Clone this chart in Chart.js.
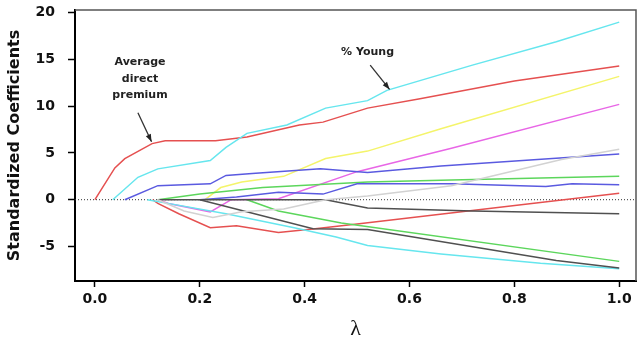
<!DOCTYPE html>
<html>
<head>
<meta charset="utf-8">
<script src="https://cdn.jsdelivr.net/npm/chart.js@4.4.1/dist/chart.umd.min.js"></script>
<style>
  html, body { margin: 0; padding: 0; background: #fff; }
  #wrap { width: 640px; height: 348px; }
</style>
</head>
<body>
<div id="wrap"><canvas id="lassoPaths"></canvas></div>
<script>
// coefficient paths, [lambda, standardized coefficient]
const premiumPath = [[0.0, 0], [0.038, 3.4], [0.057, 4.4], [0.109, 6.0], [0.134, 6.3], [0.23, 6.3], [0.29, 6.7], [0.39, 8.0], [0.435, 8.3], [0.52, 9.8], [0.62, 10.8], [0.8, 12.7], [1.0, 14.3]];
const youngPath = [[0.034, 0], [0.082, 2.4], [0.12, 3.3], [0.22, 4.2], [0.25, 5.6], [0.29, 7.1], [0.366, 8.0], [0.44, 9.8], [0.52, 10.6], [0.557, 11.7], [0.72, 14.4], [0.88, 16.9], [1.0, 19.0]];
const yellowPath = [[0.21, 0], [0.24, 1.3], [0.28, 1.9], [0.36, 2.5], [0.44, 4.4], [0.52, 5.2], [0.66, 7.6], [1.0, 13.2]];
const magentaPath = [[0.12, 0], [0.14, -0.4], [0.22, -1.3], [0.26, 0], [0.35, 0.1], [0.5, 3.0], [0.68, 5.5], [1.0, 10.2]];
const bluePathA = [[0.057, 0], [0.12, 1.5], [0.22, 1.7], [0.25, 2.6], [0.3, 2.8], [0.43, 3.3], [0.52, 2.9], [0.66, 3.6], [1.0, 4.9]];
const greenPathA = [[0.12, 0], [0.2, 0.6], [0.32, 1.3], [0.52, 1.9], [0.68, 2.1], [1.0, 2.5]];
const bluePathB = [[0.2, 0], [0.27, 0.3], [0.35, 0.8], [0.435, 0.6], [0.5, 1.7], [0.68, 1.7], [0.86, 1.4], [0.91, 1.7], [1.0, 1.6]];
const lightGrayPath = [[0.12, 0], [0.17, -1.2], [0.225, -1.9], [0.28, -1.3], [0.36, -1.0], [0.44, 0], [0.52, 0.4], [0.68, 1.5], [0.89, 4.3], [1.0, 5.4]];
const redPathB = [[0.11, 0], [0.12, -0.4], [0.16, -1.5], [0.22, -3.0], [0.27, -2.8], [0.35, -3.5], [0.42, -3.1], [0.5, -2.6], [1.0, 0.7]];
const cyanPathB = [[0.1, 0], [0.15, -0.5], [0.25, -1.5], [0.38, -3.0], [0.46, -4.0], [0.52, -4.9], [0.66, -5.8], [0.85, -6.8], [1.0, -7.4]];
const greenPathB = [[0.29, 0], [0.35, -1.2], [0.47, -2.5], [1.0, -6.6]];
const darkPathB = [[0.2, 0], [0.416, -3.1], [0.52, -3.2], [0.88, -6.5], [1.0, -7.3]];
const darkPathA = [[0.12, 0], [0.44, 0], [0.52, -0.9], [0.72, -1.2], [1.0, -1.5]];

const xTicks = [0, 0.2, 0.4, 0.6, 0.8, 1.0];
const yTicks = [-5, 0, 5, 10, 15, 20];

// text callouts: [lambda, coef] anchors
const premiumLabel = { lines: ['Average', 'direct', 'premium'], at: [0.086, 14.7], arrowFrom: [0.082, 9.3], arrowTo: [0.108, 6.2] };
const youngLabel = { lines: ['% Young'], at: [0.52, 15.8], arrowFrom: [0.525, 14.4], arrowTo: [0.562, 11.8] };

const series = [
  [lightGrayPath, '#d2d2d2'],
  [darkPathA, '#505050'],
  [darkPathB, '#505050'],
  [greenPathB, '#5cd65c'],
  [cyanPathB, '#66e6ee'],
  [redPathB, '#e55050'],
  [bluePathB, '#5a5ae0'],
  [greenPathA, '#5cd65c'],
  [bluePathA, '#5a5ae0'],
  [magentaPath, '#e866e6'],
  [yellowPath, '#f4f46a'],
  [youngPath, '#66e6ee'],
  [premiumPath, '#e55050'],
];

const frame = {
  id: 'frame',
  beforeDatasetsDraw(chart) {
    const { ctx, chartArea, scales } = chart;
    const y0 = scales.y.getPixelForValue(0);
    ctx.save();
    ctx.strokeStyle = '#333';
    ctx.lineWidth = 1;
    ctx.setLineDash([1, 2]);
    ctx.beginPath();
    ctx.moveTo(chartArea.left, y0);
    ctx.lineTo(chartArea.right, y0);
    ctx.stroke();
    ctx.restore();
  },
  afterDraw(chart) {
    const { ctx, chartArea } = chart;
    ctx.save();
    ctx.strokeStyle = '#555';
    ctx.lineWidth = 1.5;
    ctx.beginPath();
    ctx.moveTo(chartArea.left, chartArea.top);
    ctx.lineTo(chartArea.right, chartArea.top);
    ctx.lineTo(chartArea.right, chartArea.bottom);
    ctx.stroke();
    ctx.restore();
  }
};

const callouts = {
  id: 'callouts',
  afterDatasetsDraw(chart) {
    const { ctx, scales } = chart;
    const px = p => [scales.x.getPixelForValue(p[0]), scales.y.getPixelForValue(p[1])];
    ctx.save();
    for (const c of [premiumLabel, youngLabel]) {
      const [tx, ty] = px(c.at);
      ctx.fillStyle = '#222';
      ctx.font = 'bold 11px "DejaVu Sans"';
      ctx.textAlign = 'center';
      ctx.textBaseline = 'middle';
      c.lines.forEach((t, i) => ctx.fillText(t, tx, ty + i * 16.5));
      const [ax, ay] = px(c.arrowFrom);
      const [bx, by] = px(c.arrowTo);
      ctx.strokeStyle = '#333';
      ctx.lineWidth = 1.3;
      ctx.beginPath();
      ctx.moveTo(ax, ay);
      ctx.lineTo(bx, by);
      ctx.stroke();
      const ang = Math.atan2(by - ay, bx - ax);
      ctx.fillStyle = '#222';
      ctx.beginPath();
      ctx.moveTo(bx, by);
      ctx.lineTo(bx - 8 * Math.cos(ang - 0.35), by - 8 * Math.sin(ang - 0.35));
      ctx.lineTo(bx - 8 * Math.cos(ang + 0.35), by - 8 * Math.sin(ang + 0.35));
      ctx.closePath();
      ctx.fill();
    }
    ctx.restore();
  }
};

new Chart(document.getElementById('lassoPaths'), {
  type: 'line',
  data: {
    datasets: series.map(([path, color]) => ({
      data: path.map(([x, y]) => ({ x, y })),
      borderColor: color,
      borderWidth: 1.5,
      pointRadius: 0,
      tension: 0,
      fill: false
    }))
  },
  options: {
    responsive: true,
    maintainAspectRatio: false,
    animation: false,
    layout: { padding: { top: 10, right: 4, left: 0, bottom: 0 } },
    plugins: { legend: { display: false }, tooltip: { enabled: false } },
    scales: {
      x: {
        type: 'linear',
        min: -0.038,
        max: 1.032,
        afterBuildTicks: s => { s.ticks = xTicks.map(v => ({ value: v })); },
        afterFit: s => { s.height = 67; s.paddingLeft = 0; s.paddingRight = 0; },
        grid: { drawOnChartArea: false, color: '#000', tickLength: 6, tickWidth: 1.5 },
        border: { color: '#000', width: 2 },
        ticks: {
          color: '#111',
          padding: 4,
          maxRotation: 0,
          font: { family: 'DejaVu Sans', weight: 'bold', size: 14 },
          callback: v => v.toFixed(1)
        },
        title: {
          display: true,
          text: 'λ',
          color: '#111',
          font: { family: 'Liberation Serif', size: 22 },
          padding: { top: 0, bottom: 6 }
        }
      },
      y: {
        min: -8.7,
        max: 20.3,
        afterBuildTicks: s => { s.ticks = yTicks.map(v => ({ value: v })); },
        afterFit: s => { s.width = 75; s.paddingTop = 0; s.paddingBottom = 0; },
        grid: { drawOnChartArea: false, color: '#000', tickLength: 7, tickWidth: 1.5 },
        border: { color: '#000', width: 2 },
        ticks: {
          color: '#111',
          padding: 13,
          font: { family: 'DejaVu Sans', weight: 'bold', size: 14 }
        },
        title: {
          display: true,
          text: 'Standardized Coefficients',
          color: '#111',
          font: { family: 'DejaVu Sans', weight: 'bold', size: 16 },
          padding: { top: 5, bottom: 0 }
        }
      }
    }
  },
  plugins: [frame, callouts]
});
</script>
</body>
</html>
